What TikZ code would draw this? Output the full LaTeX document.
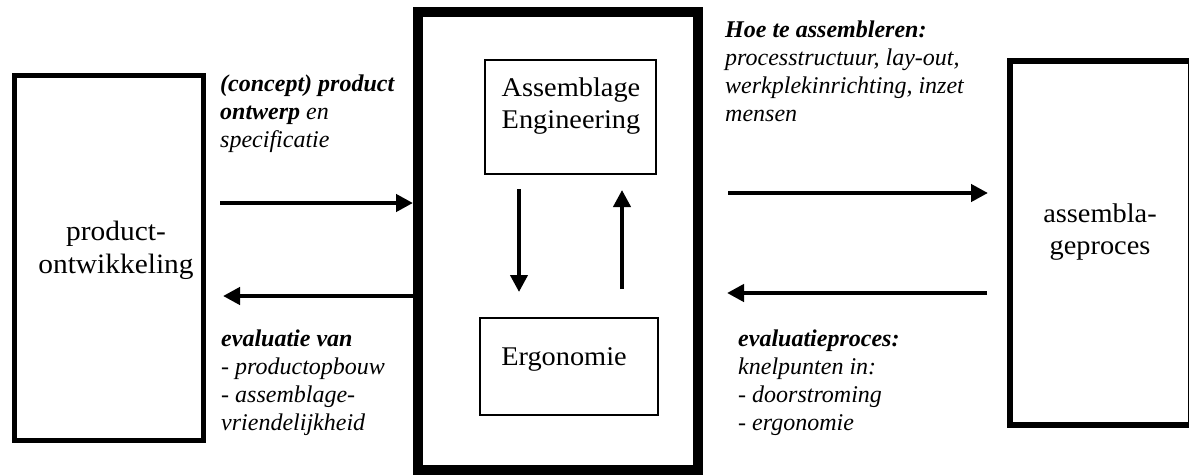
\documentclass[tikz,border=0pt]{standalone}
\usepackage{fontspec}
\setmainfont{Liberation Serif}[FakeStretch=1.05]
\newfontfamily\notefont{Liberation Serif}
\usetikzlibrary{arrows.meta}
\begin{document}
\begin{tikzpicture}[x=1pt,y=-1pt,
  box/.style={draw, rectangle, inner sep=0pt, anchor=center},
  boxtext/.style={font=\fontsize{27}{32}\selectfont, align=center, inner sep=0pt, anchor=base},
  note/.style={font=\notefont\fontsize{24}{28}\selectfont\itshape, align=left, inner sep=0pt, anchor=base west},
  arr/.style={line width=4.5pt, -{Triangle[length=17pt,width=17pt]}},
]
\useasboundingbox (0,0) rectangle (1189,474);

% main blocks
\node[box, line width=5pt, minimum width=189pt, minimum height=365pt] (pd) at (108.5,257.5) {};
\node[box, line width=10pt, minimum width=280pt, minimum height=458pt] (cb) at (558,241) {};
\node[box, line width=6pt, minimum width=181pt, minimum height=364pt] (ap) at (1100.5,243) {};
\node[box, line width=2.5pt, minimum width=171pt, minimum height=114pt] (ae) at (570.5,117) {};
\node[box, line width=2.5pt, minimum width=178pt, minimum height=97pt] (er) at (569,366.5) {};

% block texts (anchored at the baseline of their last line)
\node[boxtext, font=\fontsize{28}{33}\selectfont] (pdt) at (116,273) {product-\\ontwikkeling};
\node[boxtext] (apt) at (1100,254) {assembla-\\geproces};
\node[boxtext] (aet) at (571,128) {Assemblage\\Engineering};
\node[boxtext] (ert) at (564,365) {Ergonomie};

% flow labels
\node[note] (l1) at (220,147) {\textbf{(concept) product}\\\textbf{ontwerp} en\\specificatie};
\node[note] (l2) at (221,430) {\textbf{evaluatie van}\\- productopbouw\\- assemblage-\\vriendelijkheid};
\node[note] (l3) at (725,121) {\textbf{Hoe te assembleren:}\\processtructuur, lay-out,\\werkplekinrichting, inzet\\mensen};
\node[note] (l4) at (738,430) {\textbf{evaluatieproces:}\\knelpunten in:\\- doorstroming\\- ergonomie};

% free arrow ends
\coordinate (a1) at (220,203);
\coordinate (a2) at (223,296);
\coordinate (a3s) at (728,193);
\coordinate (a3e) at (988,193);
\coordinate (a4s) at (987,293);
\coordinate (a4e) at (727,293);
\coordinate (d1) at (519,189);
\coordinate (d2) at (519,292);
\coordinate (u1) at (622,289);
\coordinate (u2) at (622,190);

% connectors
\draw[arr] (a1) -- (cb.west |- a1);
\draw[arr] (cb.west |- a2) -- (a2);
\draw[arr] (a3s) -- (a3e);
\draw[arr] (a4s) -- (a4e);
\draw[arr, line width=4pt] (d1) -- (d2);
\draw[arr, line width=4pt] (u1) -- (u2);
\end{tikzpicture}
\end{document}
